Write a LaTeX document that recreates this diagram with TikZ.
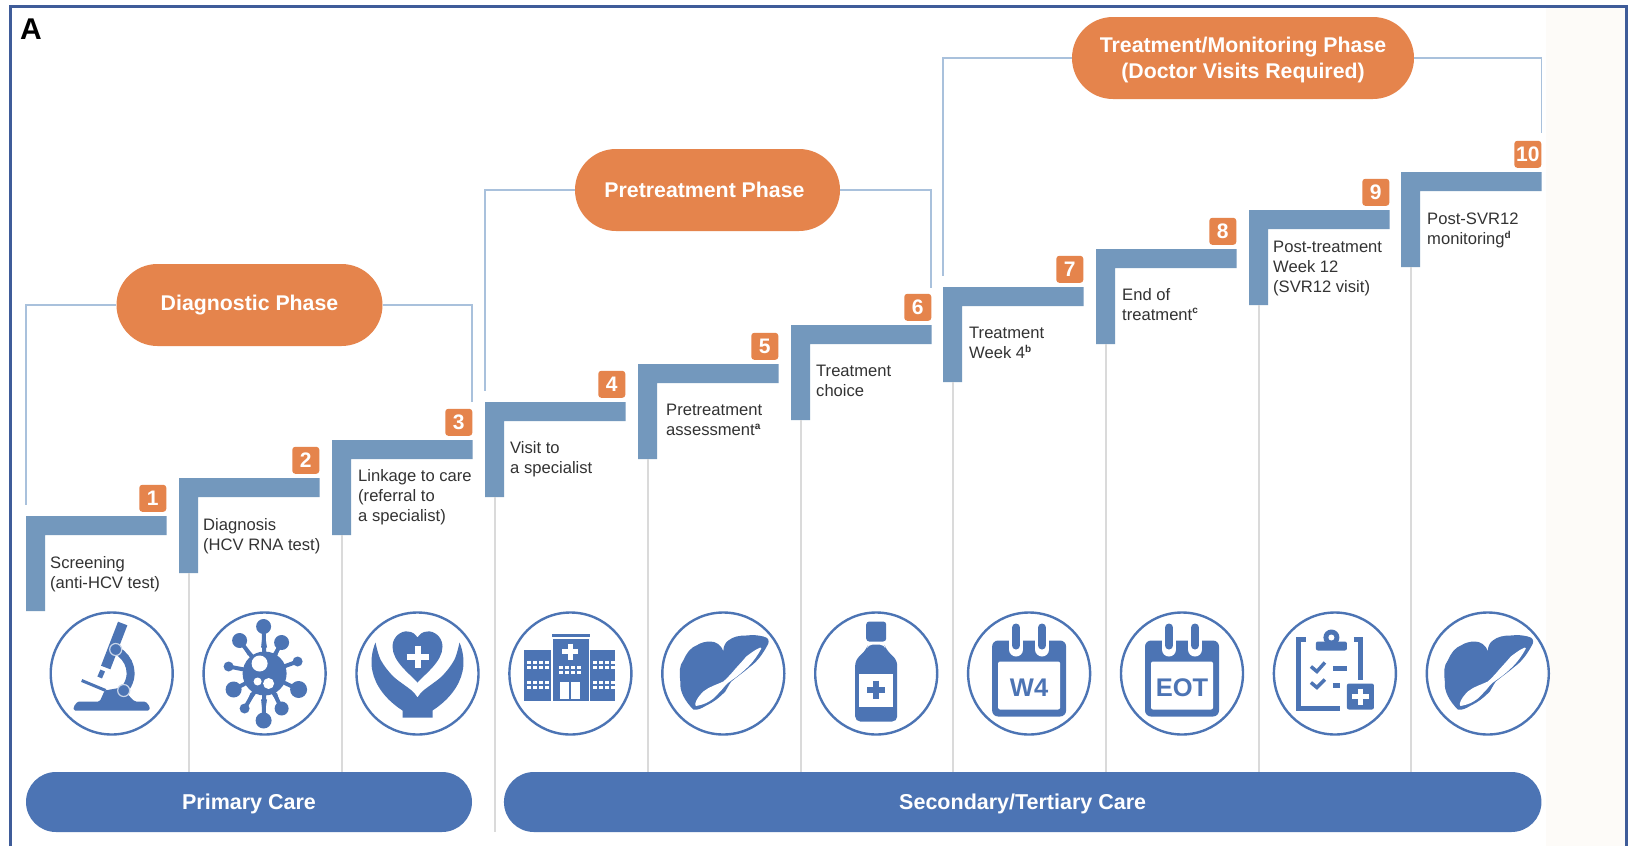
\documentclass[tikz,border=0pt]{standalone}
\usepackage{fontspec}
\setmainfont{Liberation Sans}
\usetikzlibrary{positioning}

\definecolor{framecol}{HTML}{3F5C99}
\definecolor{pillcol}{HTML}{E5844C}
\definecolor{carecol}{HTML}{4C74B4}
\definecolor{barcol}{HTML}{7398BD}
\definecolor{linkcol}{HTML}{A9C1DC}
\definecolor{gridcol}{HTML}{DADADA}
\definecolor{textcol}{HTML}{333333}
\definecolor{creamcol}{HTML}{FDFBF8}

\tikzset{
  phasepill/.style={fill=pillcol,text=white,font=\fontsize{21.3}{26}\selectfont\bfseries,align=center,
    minimum height=82pt,rounded corners=41pt,inner sep=0pt},
  carepill/.style={fill=carecol,text=white,font=\fontsize{21.5}{26}\selectfont\bfseries,
    minimum height=60pt,rounded corners=30pt,inner sep=0pt,text height=15pt,text depth=0pt},
  badge/.style={fill=pillcol,text=white,font=\fontsize{21}{24}\selectfont\bfseries,
    minimum size=27pt,rounded corners=3pt,inner sep=0pt,anchor=south east},
  steptext/.style={text=textcol,font=\fontsize{16.6}{20}\selectfont,align=left,inner sep=0pt,anchor=north west},
  iconring/.style={circle,draw=carecol,line width=2.4pt,minimum size=122pt,inner sep=0pt},
  icontext/.style={text=carecol,font=\fontsize{25.5}{26}\selectfont\bfseries,inner sep=0pt},
  linkline/.style={draw=linkcol,line width=1.3pt},
  gridline/.style={draw=gridcol,line width=1.1pt}
}

\newcommand{\notemark}[1]{\textsuperscript{\fontsize{10}{10}\selectfont\bfseries #1}}

\newcommand{\liverpic}{
  \fill[carecol] (-30,36) .. controls (-38,28) and (-44,18) .. (-43,8) .. controls (-44,-2) and (-44,-8) .. (-40,-13)
    .. controls (-36,-22) and (-32,-26) .. (-27,-28) .. controls (-22,-31) and (-18,-32) .. (-13,-32)
    .. controls (-8,-32) and (-2,-29) .. (0,-22) .. controls (0,-27) and (2,-31) .. (5,-33)
    .. controls (10,-37) and (16,-38) .. (23,-38) .. controls (30,-39) and (36,-38) .. (40,-37)
    .. controls (45,-36) and (46,-33) .. (45,-30) .. controls (40,-20) and (34,-12) .. (27,-7)
    .. controls (20,-1) and (14,3) .. (8,8) .. controls (5,12) and (4,15) .. (2,18)
    .. controls (-4,24) and (-10,29) .. (-17,32) .. controls (-22,35) and (-26,37) .. (-30,36) -- cycle;
  \fill[white] (37,-26) .. controls (32,-24) and (27,-20) .. (23,-17) .. controls (18,-11) and (13,-6) .. (8,0)
    .. controls (5,3) and (3,6) .. (0,8) .. controls (-6,11) and (-14,13) .. (-20,18)
    .. controls (-24,22) and (-27,26) .. (-28,30) .. controls (-28,33) and (-27,33) .. (-25,32)
    .. controls (-20,31) and (-15,29) .. (-10,25) .. controls (-5,20) and (-1,16) .. (2,12)
    .. controls (4,10) and (6,8) .. (8,7) .. controls (14,3) and (20,-2) .. (25,-7)
    .. controls (30,-12) and (35,-19) .. (38,-25) -- cycle;
}
\newcommand{\calendarpic}[1]{
  \fill[carecol,rounded corners=6pt] (-37,-33) rectangle (37,43);
  \fill[white,rounded corners=2pt] (-31,-12) rectangle (31,36);
  \foreach \r in {-13,13} {
    \draw[white,line width=14pt,line cap=round] (\r,-42) -- (\r,-24);
    \draw[carecol,line width=8pt,line cap=round] (\r,-46) -- (\r,-28);
  }
  \node[icontext] (cal#1) at (0,14) {#1};
}

\begin{document}
\begin{tikzpicture}[x=1pt,y=-1pt]
  \useasboundingbox (0,0) rectangle (1630,846);
  \fill[white] (0,0) rectangle (1630,846);
  \fill[creamcol] (1546,8) rectangle (1625,846);
  \draw[framecol,line width=3pt] (10,846) -- (10,6) -- (1626,6) -- (1626,846);
  \node[font=\fontsize{30}{30}\selectfont\bfseries,inner sep=0pt] (panel) at (31,29) {A};

  \foreach \i/\x/\y in {1/26/516,2/179/478,3/332/440,4/485/402,5/638/364,6/791/325,7/943/287,8/1096/249,9/1249/210,10/1401/172} {
    \fill[barcol] (\x,\y) -- (\x+140.5,\y) -- (\x+140.5,\y+19) -- (\x+19,\y+19) -- (\x+19,\y+95) -- (\x,\y+95) -- cycle;
    \node[badge] (badge\i) at (\x+140.5,\y-4) {\i};
  }
  \foreach \x/\y/\e in {179/573/772,332/535/772,485/497/832,638/459/772,791/420/772,943/382/772,1096/344/772,1249/305/772,1401/267/772}
    \draw[gridline] (\x+10,\y) -- (\x+10,\e);

  \node[steptext] (label1) at (50,556) {Screening\\(anti-HCV test)};
  \node[steptext] (label2) at (203,518) {Diagnosis\\(HCV RNA test)};
  \node[steptext] (label3) at (358,469) {Linkage to care\\(referral to\\a specialist)};
  \node[steptext] (label4) at (510,441) {Visit to\\a specialist};
  \node[steptext] (label5) at (666,404) {Pretreatment\\assessment\notemark{a}};
  \node[steptext] (label6) at (816,365) {Treatment\\choice};
  \node[steptext] (label7) at (969,327) {Treatment\\Week 4\notemark{b}};
  \node[steptext] (label8) at (1122,288) {End of\\treatment\notemark{c}};
  \node[steptext] (label9) at (1273,241) {Post-treatment\\Week 12\\(SVR12 visit)};
  \node[steptext] (label10) at (1427,213) {Post-SVR12\\monitoring\notemark{d}};

  \coordinate (diagL) at (26,505);
  \coordinate (diagR) at (472,402);
  \coordinate (preL) at (485,391);
  \coordinate (preR) at (931,288);
  \coordinate (treatL) at (943,276);
  \coordinate (treatR) at (1541.5,133);
  \node[phasepill,minimum width=266pt] (diagnostic) at (249.5,305) {Diagnostic Phase};
  \node[phasepill,minimum width=265pt] (pretreatment) at (707.5,190) {\hspace*{-6pt}Pretreatment Phase};
  \node[phasepill,minimum width=342pt] (treatment) at (1243,58) {\rule{0pt}{20pt}Treatment/Monitoring Phase\\(Doctor Visits Required)};
  \draw[linkline] (diagnostic.west) -| (diagL);
  \draw[linkline] (diagnostic.east) -| (diagR);
  \draw[linkline] (pretreatment.west) -| (preL);
  \draw[linkline] (pretreatment.east) -| (preR);
  \draw[linkline] (treatment.west) -| (treatL);
  \draw[linkline] (treatment.east) -| (treatR);

  \node[carepill,minimum width=446pt] (primary) at (249,802) {Primary Care};
  \node[carepill,minimum width=1037.5pt] (secondary) at (1022.7,802) {Secondary/Tertiary Care};

  \foreach \i/\x in {1/111.7,2/264.6,3/417.5,4/570.4,5/723.3,6/876.2,7/1029.1,8/1182,9/1334.9,10/1487.8}
    \node[iconring] (ring\i) at (\x,673.5) {};

  \begin{scope}[shift={(ring1.center)}]
    \fill[carecol,rounded corners=1.5pt] (-38,37) -- (-38,33) -- (-34,28) -- (-12,28) -- (-7,17) -- (10,14) -- (18,23) -- (23,28) -- (34,28) -- (38,33) -- (38,37) -- cycle;
    \draw[carecol,line width=3pt] (-30,7) -- (-6,17);
    \draw[carecol,line width=10pt] (11,-50) -- (-6,-6);
    \draw[carecol,line width=5pt] (-9,-3) -- (-12,4);
    \draw[white,line width=1pt] (-12,-6) -- (-3,-2.5);
    \draw[carecol,line width=8pt] (5,-23) .. controls (18,-16) and (25,2) .. (12,17);
    \draw[white!70!carecol,line width=1.2pt,fill=carecol] (4,-24) circle (6);
    \draw[white!70!carecol,line width=1.2pt,fill=carecol] (12,17) circle (6);
  \end{scope}

  \begin{scope}[shift={(ring2.center)}]
    \foreach \a/\b/\s in {-1/-47/7.5,-25/-33/7.5,17/-31/7.5,-36/-7/5,33/-12/5,-31/16/8,34/16/8.5,-20/35/5,17/35/7,-1/47/8} {
      \draw[carecol,line width=4pt] (0,0) -- (\a,\b);
      \fill[carecol] (\a,\b) circle (\s);
      \fill[carecol] (\a*0.55-3,\b*0.55) -- (\a*0.55+3,\b*0.55) -- (\a,\b) -- cycle;
    }
    \fill[carecol] (0,0) circle (22);
    \fill[white] (-5,-10) circle (8);
    \fill[white] (-7,8) circle (4);
    \fill[white] (4,10) circle (5.5);
  \end{scope}

  \begin{scope}[shift={(ring3.center)}]
    \fill[carecol] (0,9) .. controls (-8,0) and (-25,-12) .. (-25,-27) .. controls (-25,-37) and (-16,-43) .. (-10,-42)
      .. controls (-5,-42) and (-2,-39) .. (0,-36) .. controls (2,-39) and (5,-42) .. (10,-42)
      .. controls (16,-43) and (25,-37) .. (25,-27) .. controls (25,-12) and (8,0) .. (0,9) -- cycle;
    \draw[white,line width=6pt] (-11,-17) -- (11,-17);
    \draw[white,line width=6pt] (0,-28) -- (0,-6);
    \fill[carecol] (-42,-31) .. controls (-40,-22) and (-38,-14) .. (-34,-9) .. controls (-30,-3) and (-24,4) .. (-18,8)
      .. controls (-10,14) and (-3,18) .. (0,24) .. controls (3,18) and (10,14) .. (18,8)
      .. controls (24,4) and (30,-3) .. (34,-9) .. controls (38,-14) and (40,-22) .. (42,-31)
      .. controls (46,-22) and (47,-10) .. (45,-2) .. controls (42,12) and (32,26) .. (15,37) -- (15,44) -- (-15,44) -- (-15,37)
      .. controls (-32,26) and (-42,12) .. (-45,-2) .. controls (-47,-10) and (-46,-22) .. (-42,-31) -- cycle;
  \end{scope}

  \begin{scope}[shift={(ring4.center)}]
    \fill[carecol] (-46,-24) rectangle (-19,27);
    \fill[carecol] (20,-24) rectangle (45,27);
    \fill[carecol] (-17,-35) rectangle (19,27);
    \fill[carecol] (-18,-40) rectangle (20,-36.5);
    \draw[white,line width=4.5pt] (-8,-22) -- (8,-22);
    \draw[white,line width=4.5pt] (0,-30) -- (0,-14);
    \fill[white] (-10,8) rectangle (-1,25);
    \fill[white] (1,8) rectangle (10,25);
    \foreach \xa in {-43,-37,-31,-25,23,29,35,41} {
      \foreach \ya in {-13,-8,7,12}
        \fill[white] (\xa,\ya) rectangle +(4,3.5);
    }
    \foreach \xa in {-11,-5,1,7} {
      \foreach \ya in {-8,-3}
        \fill[white] (\xa,\ya) rectangle +(4,3.5);
    }
  \end{scope}

  \begin{scope}[shift={(ring5.center)}]
    \liverpic
  \end{scope}

  \begin{scope}[shift={(ring6.center)}]
    \fill[carecol,rounded corners=3pt] (-10,-52) rectangle (10,-32);
    \fill[carecol,rounded corners=5pt] (-8,-29) -- (8,-29) -- (10,-24) -- (21,-13) -- (21,48) -- (-21,48) -- (-21,-13) -- (-10,-24) -- cycle;
    \fill[white] (-17,0) rectangle (17,33);
    \draw[carecol,line width=6pt] (-9,16) -- (9,16);
    \draw[carecol,line width=6pt] (0,7) -- (0,25);
  \end{scope}

  \begin{scope}[shift={(ring7.center)}]
    \calendarpic{W4}
  \end{scope}
  \begin{scope}[shift={(ring8.center)}]
    \calendarpic{EOT}
  \end{scope}

  \begin{scope}[shift={(ring9.center)}]
    \draw[carecol,line width=5pt] (-29,-34) -- (-36,-34) -- (-36,35) -- (5,35);
    \draw[carecol,line width=5pt] (19,-34) -- (26,-34) -- (26,6);
    \fill[carecol,rounded corners=2pt] (-19,-32) rectangle (12,-23);
    \fill[carecol] (-3.5,-36) circle (8);
    \fill[white] (-3.5,-36) circle (3);
    \draw[carecol,line width=3.5pt] (-24,-7) -- (-18,-2) -- (-10,-11);
    \draw[carecol,line width=3.5pt] (-24,9) -- (-18,14) -- (-10,6);
    \draw[carecol,line width=4.5pt] (-2,-5) -- (12,-5);
    \draw[carecol,line width=4.5pt] (-2,12) -- (5,12);
    \fill[carecol,rounded corners=2pt] (12,10) rectangle (39,36);
    \draw[white,line width=5pt] (17,23) -- (34,23);
    \draw[white,line width=5pt] (25.5,15) -- (25.5,31);
  \end{scope}

  \begin{scope}[shift={(ring10.center)}]
    \liverpic
  \end{scope}
\end{tikzpicture}
\end{document}
